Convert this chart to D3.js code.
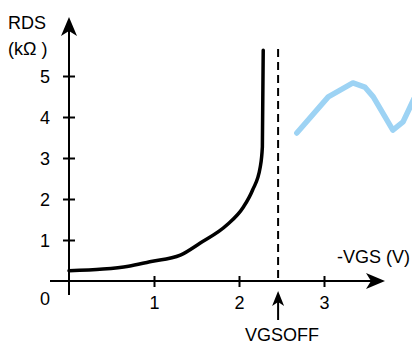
<!DOCTYPE html>
<html>
<head>
<meta charset="utf-8">
<script src="https://cdn.jsdelivr.net/npm/d3@7"></script>
<style>
  body{margin:0;background:#fff;}
  text{font-family:"Liberation Sans",Arial,sans-serif;font-size:18px;fill:#000;}
</style>
</head>
<body>
<div id="DrawingBoard"></div>
<script>
var width=412,height=346;

// data
var xTicks=[1,2,3],
    yTicks=[1,2,3,4,5];
var curveVgs=[0,0.4,0.7,0.95,1.31,1.54,1.86,2.05,2.16,2.25,2.275,2.285],
    curveRds=[0.25,0.29,0.36,0.47,0.63,0.92,1.37,1.8,2.22,2.78,3.27,5.63];
var blueX=[2.68,3.05,3.34,3.48,3.58,3.81,3.93,4.06],
    blueY=[3.61,4.49,4.83,4.73,4.49,3.68,3.88,4.45];
var vgsOff=2.46;

var svg=d3.select('#DrawingBoard')
    .append('svg')
    .attr('width',width)
    .attr('height',height);

//坐标比例
var scale_x=d3.scaleLinear().domain([0,3]).range([69,324]);
var scale_y=d3.scaleLinear().domain([0,5]).range([281,76]);

var g=svg.append('g');

// axes lines (drawn by hand for the arrows)
g.append('line')
  .attr('x1',scale_x(0)).attr('y1',295)
  .attr('x2',scale_x(0)).attr('y2',24)
  .attr('stroke','#000').attr('stroke-width',2);
g.append('path')
  .attr('d','M'+scale_x(0)+',17 L'+(scale_x(0)-8)+',36 L'+scale_x(0)+',31 L'+(scale_x(0)+8)+',36 Z')
  .attr('fill','#000');

g.append('line')
  .attr('x1',50).attr('y1',scale_y(0))
  .attr('x2',378).attr('y2',scale_y(0))
  .attr('stroke','#000').attr('stroke-width',2);
g.append('path')
  .attr('d','M385,'+scale_y(0)+' L366,'+(scale_y(0)-8)+' L371,'+scale_y(0)+' L366,'+(scale_y(0)+8)+' Z')
  .attr('fill','#000');

// tick marks through d3 axes
var y_axis=d3.axisLeft(scale_y).tickValues(yTicks).tickFormat(d3.format('d')).tickSize(6);
var ya=g.append('g').attr('transform','translate('+scale_x(0)+',0)').call(y_axis);
ya.select('.domain').remove();
ya.selectAll('.tick line').attr('x1',-6).attr('x2',6).attr('stroke','#000').attr('stroke-width',2);
ya.selectAll('.tick text').attr('x',-19).attr('dy','0.36em');

var x_axis=d3.axisBottom(scale_x).tickValues(xTicks).tickFormat(d3.format('d')).tickSize(6);
var xa=g.append('g').attr('transform','translate(0,'+scale_y(0)+')').call(x_axis);
xa.select('.domain').remove();
xa.selectAll('.tick line').attr('y1',-5).attr('y2',6).attr('stroke','#000').attr('stroke-width',2);
xa.selectAll('.tick text').attr('y',15);

g.append('text').attr('x',45).attr('y',305).attr('text-anchor','middle').text('0');

// labels
g.append('text').attr('x',8).attr('y',29).text('RDS');
g.append('text').attr('x',8).attr('y',55).text('(kΩ )');
g.append('text').attr('x',337).attr('y',263).text('-VGS (V)');

// dashed VGSOFF line
g.append('line')
  .attr('x1',scale_x(vgsOff)).attr('y1',49)
  .attr('x2',scale_x(vgsOff)).attr('y2',scale_y(0))
  .attr('stroke','#000').attr('stroke-width',2)
  .attr('stroke-dasharray','8,5');

// VGSOFF arrow
g.append('line')
  .attr('x1',scale_x(vgsOff)).attr('y1',320)
  .attr('x2',scale_x(vgsOff)).attr('y2',298)
  .attr('stroke','#000').attr('stroke-width',2);
g.append('path')
  .attr('d','M'+scale_x(vgsOff)+',291 L'+(scale_x(vgsOff)-6)+',306 L'+scale_x(vgsOff)+',302 L'+(scale_x(vgsOff)+6)+',306 Z')
  .attr('fill','#000');
g.append('text').attr('x',scale_x(vgsOff)+4).attr('y',341).attr('text-anchor','middle').text('VGSOFF');

// black curve
var curveData=curveVgs.map(function(v,i){return [v,curveRds[i]];});
var line=d3.line()
  .x(function(d){return scale_x(d[0]);})
  .y(function(d){return scale_y(d[1]);})
  .curve(d3.curveMonotoneX);
g.append('path')
  .datum(curveData)
  .attr('d',line)
  .attr('fill','none')
  .attr('stroke','#000')
  .attr('stroke-width',3.5)
  .attr('stroke-linecap','round');

// light blue line
var blueData=blueX.map(function(v,i){return [v,blueY[i]];});
var bline=d3.line()
  .x(function(d){return scale_x(d[0]);})
  .y(function(d){return scale_y(d[1]);});
g.append('path')
  .datum(blueData)
  .attr('d',bline)
  .attr('fill','none')
  .attr('stroke','#9dd3f4')
  .attr('stroke-width',5.5)
  .attr('stroke-linejoin','round')
  .attr('stroke-linecap','round');
</script>
</body>
</html>
